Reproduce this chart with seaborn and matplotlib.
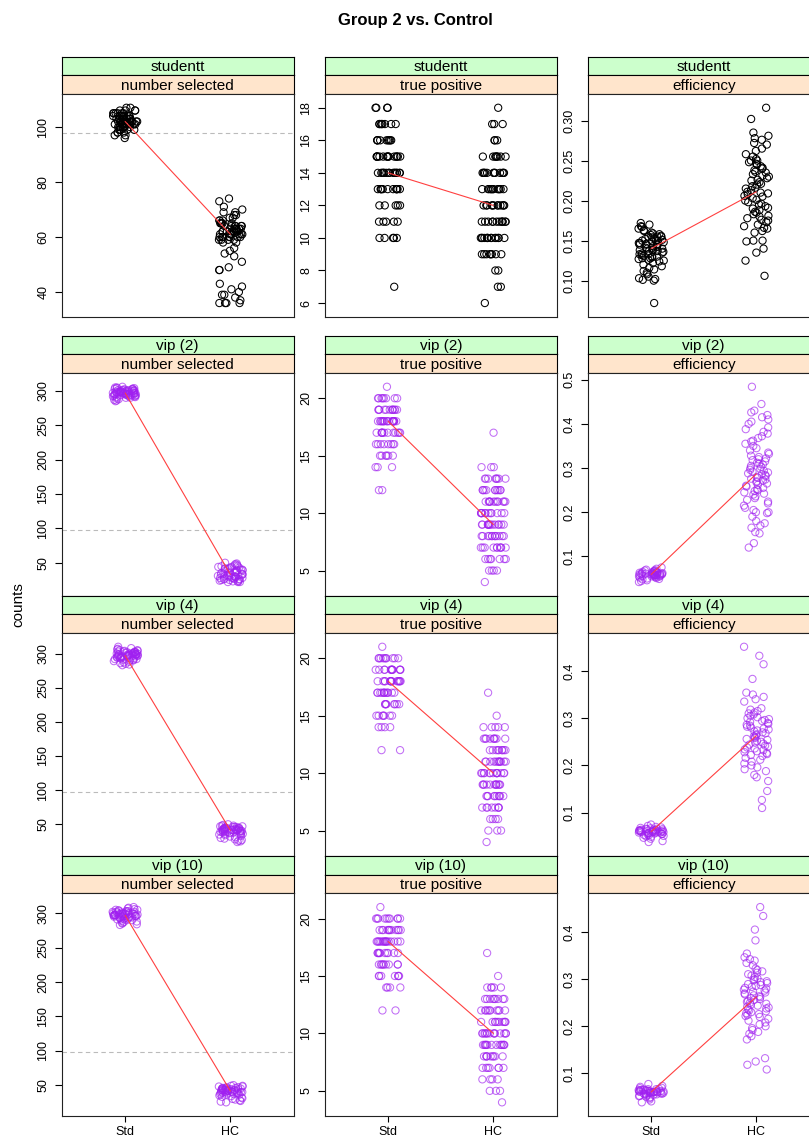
import numpy as np
import pandas as pd
import matplotlib
matplotlib.use("Agg")
import matplotlib.pyplot as plt
import seaborn as sns
from matplotlib.ticker import MaxNLocator

# ---------------- data ----------------
title = "Group 2 vs. Control"
ylabel = "counts"
methods = ["studentt", "vip (2)", "vip (4)", "vip (10)"]
measures = ["number selected", "true positive", "efficiency"]
groups = ["Std", "HC"]
ref_count = 98

# number selected
ns_st_std = [107, 107, 106, 106, 106, 106, 105, 105, 105, 105, 105, 104, 104, 104, 104, 104, 104,
             103, 103, 103, 103, 103, 103, 103, 102, 102, 102, 102, 102, 102, 102, 102, 101, 101,
             101, 101, 101, 101, 101, 100, 100, 100, 100, 100, 100, 99, 99, 99, 99, 98, 98, 98,
             97, 97, 96, 104, 103, 102, 101, 100, 105, 103, 102, 101, 99]
ns_st_hc = [74, 73, 71, 70, 69, 69, 68, 68, 67, 67, 66, 66, 66, 65, 65, 65, 65, 65, 64, 64, 64,
            64, 64, 64, 63, 63, 63, 63, 63, 63, 63, 62, 62, 62, 62, 62, 62, 62, 61, 61, 61, 61,
            61, 61, 60, 60, 60, 60, 60, 60, 60, 59, 59, 59, 59, 58, 58, 56, 55, 54, 53, 51, 49,
            48, 48, 43, 42, 41, 40, 39, 39, 38, 37, 36, 36, 36, 36]
ns_v2_std = [306, 305, 305, 304, 304, 303, 303, 303, 302, 302, 302, 301, 301, 301, 301, 300, 300,
             300, 300, 299, 299, 299, 299, 299, 298, 298, 298, 298, 298, 297, 297, 297, 297, 297,
             297, 296, 296, 296, 296, 296, 295, 295, 295, 295, 294, 294, 294, 294, 293, 293, 293,
             292, 292, 292, 291, 291, 290, 290, 289, 288, 287, 286, 285]
ns_v2_hc = [50, 49, 48, 47, 46, 45, 45, 44, 44, 43, 43, 42, 42, 41, 41, 40, 40, 39, 39, 38, 38,
            37, 37, 36, 36, 35, 35, 34, 34, 33, 33, 33, 32, 32, 31, 31, 30, 30, 30, 29, 29, 28,
            28, 28, 27, 27, 27, 26, 26, 26, 25, 25, 24, 24, 23, 23, 22, 22, 22]
ns_v4_std = [310, 308, 307, 306, 305, 305, 304, 304, 303, 303, 303, 302, 302, 302, 301, 301, 301,
             300, 300, 300, 300, 299, 299, 299, 299, 298, 298, 298, 298, 297, 297, 297, 297, 297,
             296, 296, 296, 296, 295, 295, 295, 294, 294, 294, 293, 293, 292, 292, 291, 291, 290,
             290, 289, 288, 287, 286, 285, 284, 283]
ns_v4_hc = [50, 49, 48, 48, 47, 47, 46, 46, 46, 45, 45, 45, 45, 44, 44, 44, 44, 43, 43, 43, 43,
            42, 42, 42, 42, 42, 41, 41, 41, 41, 41, 40, 40, 40, 40, 39, 39, 39, 38, 38, 38, 37,
            37, 36, 36, 35, 35, 34, 33, 32, 31, 30, 29, 28, 27, 26, 25, 24]
ns_v10_std = [309, 308, 307, 306, 305, 305, 304, 304, 303, 303, 303, 302, 302, 302, 301, 301, 301,
              300, 300, 300, 300, 299, 299, 299, 299, 298, 298, 298, 298, 297, 297, 297, 297, 297,
              296, 296, 296, 296, 295, 295, 295, 294, 294, 294, 293, 293, 292, 292, 291, 291, 290,
              290, 289, 288, 287, 286, 285, 284, 283]
ns_v10_hc = [50, 49, 49, 48, 48, 47, 47, 46, 46, 46, 45, 45, 45, 45, 44, 44, 44, 44, 43, 43, 43,
             43, 43, 42, 42, 42, 42, 42, 41, 41, 41, 41, 40, 40, 40, 40, 39, 39, 39, 38, 38, 37,
             37, 36, 36, 35, 34, 33, 32, 31, 30, 29, 28, 27, 26, 25]

# true positive: values and how many runs gave each value
tp_st_std_val = [7, 10, 11, 12, 13, 14, 15, 16, 17, 18]
tp_st_std_cnt = [1, 5, 5, 5, 12, 15, 15, 9, 8, 4]
tp_st_hc_val = [6, 7, 8, 9, 10, 11, 12, 13, 14, 15, 16, 17, 18]
tp_st_hc_cnt = [1, 2, 2, 8, 14, 12, 12, 12, 12, 8, 3, 3, 1]
tp_v2_std_val = [12, 14, 15, 16, 17, 18, 19, 20, 21]
tp_v2_std_cnt = [2, 3, 6, 8, 12, 18, 12, 8, 1]
tp_v2_hc_val = [4, 5, 6, 7, 8, 9, 10, 11, 12, 13, 14, 17]
tp_v2_hc_cnt = [1, 4, 7, 10, 12, 14, 12, 12, 10, 8, 3, 1]
tp_v4_std_val = [12, 14, 15, 16, 17, 18, 19, 20, 21]
tp_v4_std_cnt = [2, 4, 7, 8, 12, 15, 12, 10, 1]
tp_v4_hc_val = [4, 5, 6, 7, 8, 9, 10, 11, 12, 13, 14, 15, 17]
tp_v4_hc_cnt = [1, 3, 4, 8, 10, 12, 14, 12, 9, 9, 5, 1, 1]
tp_v10_std_val = [12, 14, 15, 16, 17, 18, 19, 20, 21]
tp_v10_std_cnt = [2, 4, 7, 9, 10, 16, 12, 10, 1]
tp_v10_hc_val = [4, 5, 6, 7, 8, 9, 10, 11, 12, 13, 14, 15, 17]
tp_v10_hc_cnt = [1, 3, 4, 7, 9, 14, 14, 10, 10, 9, 5, 1, 1]

# efficiency
eff_st_std = [0.172, 0.170, 0.168, 0.167, 0.165, 0.163, 0.162, 0.160, 0.159, 0.158, 0.157, 0.156,
              0.155, 0.155, 0.154, 0.153, 0.152, 0.151, 0.150, 0.150, 0.149, 0.148, 0.147, 0.146,
              0.145, 0.145, 0.144, 0.143, 0.142, 0.141, 0.140, 0.140, 0.139, 0.138, 0.138, 0.137,
              0.136, 0.135, 0.134, 0.133, 0.132, 0.131, 0.130, 0.130, 0.129, 0.128, 0.127, 0.126,
              0.125, 0.124, 0.122, 0.120, 0.118, 0.116, 0.114, 0.112, 0.110, 0.108, 0.105, 0.103,
              0.102, 0.101, 0.100, 0.072, 0.150, 0.145, 0.141, 0.137, 0.133, 0.128, 0.155, 0.147]
eff_st_hc = [0.316, 0.302, 0.285, 0.281, 0.278, 0.276, 0.272, 0.270, 0.265, 0.262, 0.258, 0.255,
             0.252, 0.250, 0.250, 0.248, 0.246, 0.245, 0.243, 0.241, 0.240, 0.238, 0.236, 0.235,
             0.233, 0.231, 0.230, 0.228, 0.226, 0.225, 0.223, 0.221, 0.220, 0.218, 0.216, 0.215,
             0.213, 0.211, 0.210, 0.209, 0.208, 0.206, 0.205, 0.203, 0.201, 0.200, 0.198, 0.196,
             0.195, 0.193, 0.191, 0.190, 0.188, 0.186, 0.185, 0.183, 0.181, 0.180, 0.178, 0.176,
             0.175, 0.173, 0.170, 0.168, 0.166, 0.165, 0.162, 0.160, 0.150, 0.150, 0.149, 0.140,
             0.135, 0.125, 0.106]
eff_v2_std = [0.075, 0.072, 0.070, 0.069, 0.068, 0.067, 0.066, 0.066, 0.065, 0.065, 0.064, 0.064,
              0.063, 0.063, 0.062, 0.062, 0.062, 0.061, 0.061, 0.061, 0.060, 0.060, 0.060, 0.060,
              0.059, 0.059, 0.059, 0.059, 0.058, 0.058, 0.058, 0.057, 0.057, 0.057, 0.056, 0.056,
              0.055, 0.055, 0.054, 0.054, 0.053, 0.052, 0.051, 0.050, 0.049, 0.048, 0.046, 0.044,
              0.042]
eff_v2_hc = [0.484, 0.445, 0.430, 0.426, 0.420, 0.415, 0.410, 0.405, 0.400, 0.392, 0.388, 0.382,
             0.378, 0.372, 0.368, 0.362, 0.360, 0.355, 0.350, 0.345, 0.340, 0.335, 0.332, 0.328,
             0.325, 0.322, 0.320, 0.318, 0.315, 0.312, 0.310, 0.308, 0.305, 0.303, 0.300, 0.298,
             0.296, 0.294, 0.292, 0.290, 0.288, 0.286, 0.284, 0.282, 0.280, 0.278, 0.276, 0.274,
             0.272, 0.270, 0.268, 0.265, 0.262, 0.260, 0.258, 0.255, 0.252, 0.250, 0.248, 0.245,
             0.242, 0.240, 0.236, 0.232, 0.228, 0.224, 0.220, 0.215, 0.210, 0.205, 0.200, 0.200,
             0.198, 0.190, 0.180, 0.175, 0.170, 0.165, 0.155, 0.152, 0.130, 0.120]
eff_v4_std = [0.075, 0.072, 0.070, 0.069, 0.068, 0.067, 0.066, 0.066, 0.065, 0.065, 0.064, 0.064,
              0.063, 0.063, 0.063, 0.062, 0.062, 0.062, 0.061, 0.061, 0.061, 0.060, 0.060, 0.060,
              0.060, 0.059, 0.059, 0.059, 0.058, 0.058, 0.058, 0.057, 0.057, 0.056, 0.056, 0.055,
              0.055, 0.054, 0.053, 0.052, 0.051, 0.050, 0.049, 0.047, 0.045, 0.040, 0.038]
eff_v4_hc = [0.451, 0.432, 0.414, 0.383, 0.354, 0.350, 0.345, 0.340, 0.335, 0.321, 0.318, 0.315,
             0.312, 0.310, 0.308, 0.305, 0.302, 0.300, 0.298, 0.296, 0.294, 0.292, 0.290, 0.288,
             0.286, 0.284, 0.282, 0.280, 0.278, 0.276, 0.274, 0.272, 0.270, 0.268, 0.266, 0.264,
             0.262, 0.260, 0.258, 0.256, 0.254, 0.252, 0.250, 0.248, 0.246, 0.244, 0.242, 0.240,
             0.238, 0.236, 0.234, 0.232, 0.230, 0.228, 0.226, 0.224, 0.222, 0.220, 0.216, 0.212,
             0.208, 0.204, 0.200, 0.196, 0.192, 0.188, 0.180, 0.175, 0.167, 0.146, 0.127, 0.110]
eff_v10_std = [0.077, 0.073, 0.071, 0.069, 0.068, 0.067, 0.066, 0.066, 0.065, 0.065, 0.064, 0.064,
               0.063, 0.063, 0.063, 0.062, 0.062, 0.062, 0.061, 0.061, 0.061, 0.060, 0.060, 0.060,
               0.060, 0.059, 0.059, 0.059, 0.058, 0.058, 0.058, 0.057, 0.057, 0.056, 0.056, 0.055,
               0.055, 0.054, 0.053, 0.052, 0.051, 0.050, 0.049, 0.047, 0.044, 0.040, 0.038]
eff_v10_hc = [0.454, 0.435, 0.406, 0.383, 0.355, 0.347, 0.343, 0.340, 0.335, 0.330, 0.323, 0.320,
              0.317, 0.314, 0.311, 0.308, 0.305, 0.302, 0.300, 0.298, 0.296, 0.294, 0.292, 0.290,
              0.288, 0.286, 0.284, 0.282, 0.280, 0.278, 0.276, 0.274, 0.272, 0.270, 0.268, 0.266,
              0.264, 0.262, 0.260, 0.258, 0.256, 0.254, 0.252, 0.250, 0.248, 0.246, 0.244, 0.242,
              0.240, 0.238, 0.236, 0.234, 0.232, 0.230, 0.228, 0.226, 0.224, 0.222, 0.220, 0.216,
              0.212, 0.208, 0.204, 0.200, 0.196, 0.192, 0.188, 0.184, 0.179, 0.172, 0.132, 0.125,
              0.118, 0.108]

ns_data = {"studentt": (ns_st_std, ns_st_hc), "vip (2)": (ns_v2_std, ns_v2_hc),
           "vip (4)": (ns_v4_std, ns_v4_hc), "vip (10)": (ns_v10_std, ns_v10_hc)}
tp_data = {"studentt": ((tp_st_std_val, tp_st_std_cnt), (tp_st_hc_val, tp_st_hc_cnt)),
           "vip (2)": ((tp_v2_std_val, tp_v2_std_cnt), (tp_v2_hc_val, tp_v2_hc_cnt)),
           "vip (4)": ((tp_v4_std_val, tp_v4_std_cnt), (tp_v4_hc_val, tp_v4_hc_cnt)),
           "vip (10)": ((tp_v10_std_val, tp_v10_std_cnt), (tp_v10_hc_val, tp_v10_hc_cnt))}
eff_data = {"studentt": (eff_st_std, eff_st_hc), "vip (2)": (eff_v2_std, eff_v2_hc),
            "vip (4)": (eff_v4_std, eff_v4_hc), "vip (10)": (eff_v10_std, eff_v10_hc)}

records = []
for m in methods:
    for g, vals in zip(groups, ns_data[m]):
        records += [(m, "number selected", g, v) for v in vals]
    for g, (vals, cnts) in zip(groups, tp_data[m]):
        records += [(m, "true positive", g, v) for v in np.repeat(vals, cnts)]
    for g, vals in zip(groups, eff_data[m]):
        records += [(m, "efficiency", g, v) for v in vals]
df = pd.DataFrame(records, columns=["method", "measure", "group", "value"])

# ---------------- style ----------------
sns.set_style("white")
plt.rcParams["font.family"] = ["Liberation Sans", "DejaVu Sans"]
for key in ["text.color", "axes.labelcolor", "xtick.color", "ytick.color"]:
    plt.rcParams[key] = "black"
np.random.seed(3)

W, H = 809, 1136
fig = plt.figure(figsize=(W / 100, H / 100), dpi=100)

col_left = [62, 325, 588]
col_w = 231.5
row_top = [56.7, 335.7, 595.7, 856.0]
strip_h = 18.7
panel_h = 260.0 - 2 * strip_h

green = "#CCFFCC"
peach = "#FFE5CC"
black_pt = "black"
purple_pt = (160 / 255, 32 / 255, 240 / 255, 0.65)
red_line = "#FF4040"


def px_axes(x, y, w, h):
    return fig.add_axes([x / W, 1 - (y + h) / H, w / W, h / H])


for ri, m in enumerate(methods):
    for ci, meas in enumerate(measures):
        x0 = col_left[ci]
        y0 = row_top[ri]
        # strips
        for k, (lab, colr) in enumerate([(m, green), (meas, peach)]):
            sa = px_axes(x0, y0 + k * strip_h, col_w, strip_h)
            sa.set_facecolor(colr)
            sa.set_xticks([]); sa.set_yticks([])
            for sp in sa.spines.values():
                sp.set_color("black"); sp.set_linewidth(0.8); sp.set_visible(True)
            sa.text(0.5, 0.45, lab, ha="center", va="center", fontsize=11,
                    color="black", transform=sa.transAxes)
        ax = px_axes(x0, y0 + 2 * strip_h, col_w, panel_h)
        sub = df[(df.method == m) & (df.measure == meas)]
        pcol = black_pt if ri == 0 else purple_pt
        sns.stripplot(data=sub, x="group", y="value", order=groups, jitter=0.12,
                      size=5.2, color=pcol, ax=ax, zorder=2)
        for coll in ax.collections:
            coll.set_facecolor("none")
            coll.set_edgecolor(pcol)
            coll.set_linewidth(0.75)
        sns.pointplot(data=sub, x="group", y="value", order=groups, estimator="median",
                      errorbar=None, color=red_line, markers="", linewidth=0.8, ax=ax)
        for ln in ax.lines:
            ln.set_zorder(3)
        if meas == "number selected":
            ax.axhline(ref_count, color="#BBBBBB", lw=0.8, ls=(0, (4, 3)), zorder=1)
        lo, hi = sub.value.min(), sub.value.max()
        pad = 0.07 * (hi - lo)
        ax.set_ylim(lo - pad, hi + pad)
        ax.set_xlim(-0.6, 1.6)
        ax.yaxis.set_major_locator(MaxNLocator(nbins=7, steps=[1, 2, 5, 10]))
        ax.set_xlabel(""); ax.set_ylabel("")
        ax.tick_params(axis="y", direction="out", length=5, width=0.8, labelsize=9,
                       pad=4, labelrotation=90, left=True, colors="black")
        for t in ax.get_yticklabels():
            t.set_va("center")
        if ri == len(methods) - 1:
            ax.tick_params(axis="x", direction="out", length=4, width=0.8, labelsize=9,
                           pad=3, bottom=True, colors="black")
        else:
            ax.set_xticks([])
        for sp in ax.spines.values():
            sp.set_color("#222222"); sp.set_linewidth(0.8); sp.set_visible(True)
        ax.set_facecolor("white")

fig.text(415 / W, 1 - 21 / H, title, ha="center", va="center", fontsize=12,
         fontweight="bold", color="black")
fig.text(18 / W, 1 - 605 / H, ylabel, ha="center", va="center", fontsize=11,
         rotation=90, color="black")

fig.savefig("out.png", dpi=100)
